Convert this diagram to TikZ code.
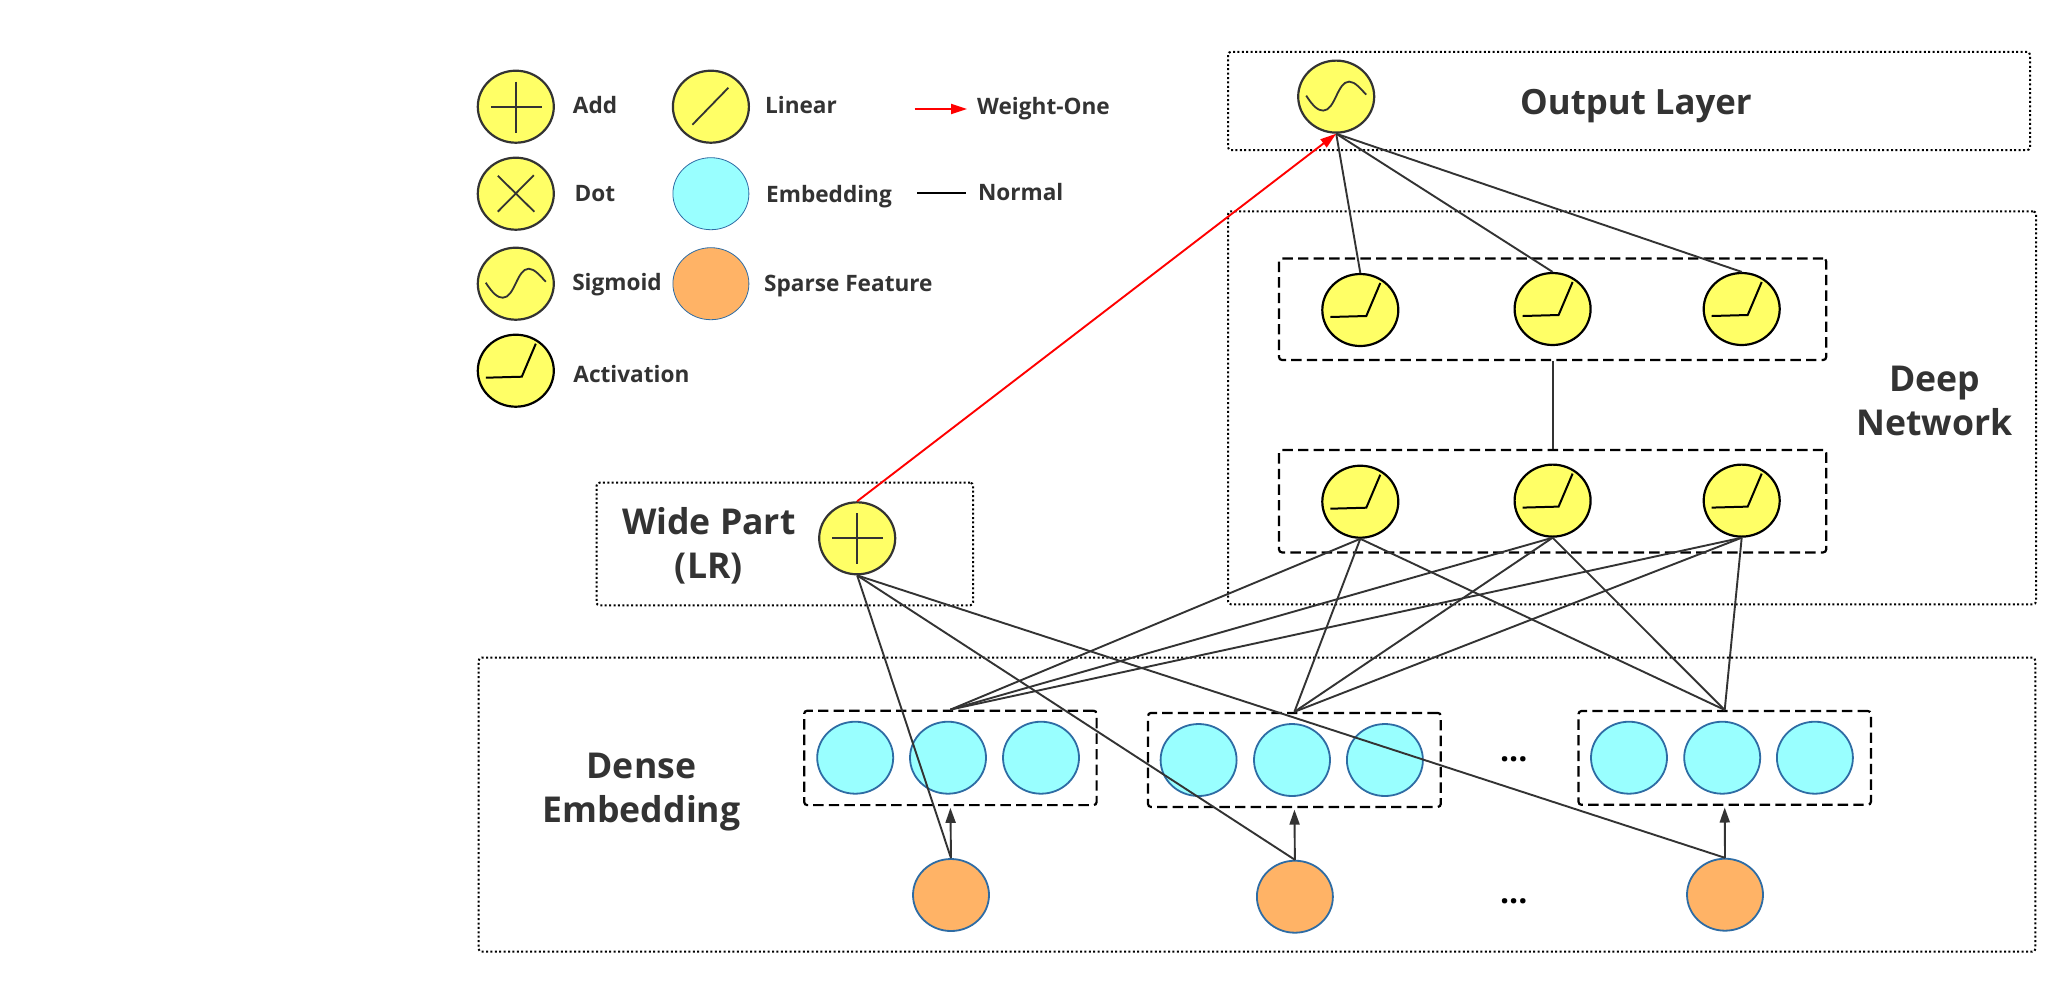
\documentclass[tikz,border=0pt]{standalone}
\usepackage{fontspec}
\setmainfont{Open Sans}[BoldFont={Open Sans Bold}]
\usetikzlibrary{shapes.geometric,arrows.meta}
\definecolor{ink}{HTML}{333333}
\definecolor{yel}{HTML}{FFFF66}
\definecolor{cyanf}{HTML}{99FFFF}
\definecolor{orgf}{HTML}{FFB366}
\definecolor{blueo}{HTML}{2E6CA4}
\tikzset{
  px/.style={x=0.5pt,y=-0.5pt},
  elbase/.style={ellipse,inner sep=0pt,minimum width=38pt,minimum height=36pt},
  yelnode/.style={elbase,fill=yel,draw=ink,line width=1.1pt},
  actnode/.style={elbase,fill=yel,draw=black,line width=1.1pt},
  embnode/.style={elbase,fill=cyanf,draw=blueo,line width=0.9pt},
  sparnode/.style={elbase,fill=orgf,draw=blueo,line width=0.9pt},
  legcol/.style={elbase,line width=0.4pt,draw=blueo},
  dotbox/.style={draw=black,line width=1pt,dash pattern=on 1pt off 1.2pt,rounded corners=1.5pt,inner sep=0pt},
  dashbox/.style={draw=black,line width=1.1pt,dash pattern=on 5.2pt off 2.6pt,rounded corners=1.5pt,inner sep=0pt},
  conn/.style={draw=ink,line width=0.95pt},
  upar/.style={conn,-{Triangle[length=7.5pt,width=5pt]},shorten >=0.8pt},
  redl/.style={draw=red,line width=0.95pt,-{Triangle[length=8pt,width=5pt]}},
  glyph/.style={draw=ink,line width=0.9pt},
  lbl/.style={font=\bfseries\fontsize{11.3}{13}\selectfont,text=ink,inner sep=0pt},
  big/.style={font=\bfseries\fontsize{17.8}{21.8}\selectfont,text=ink,inner sep=0pt,align=center},
  dots/.style={font=\bfseries\fontsize{16}{16}\selectfont,text=black,inner sep=0pt},
}
\newcommand{\glplus}[1]{\draw[glyph,shift={(#1.center)}] (0,-25)--(0,26) (-25,0)--(26,0);}
\newcommand{\gllin}[1]{\draw[glyph,shift={(#1.center)}] (-18.5,18)--(17.5,-19);}
\newcommand{\glx}[1]{\draw[glyph,shift={(#1.center)}] (-18,-18)--(18.5,18) (18,-18.5)--(-18,18);}
\newcommand{\glsig}[1]{\draw[glyph,shift={(#1.center)}] (-30,-1) .. controls (-23,10) and (-18,14) .. (-13,14) .. controls (-1,14) and (1,-15) .. (13,-15) .. controls (19,-15) and (25,-7) .. (30,-2);}
\newcommand{\glact}[1]{\draw[draw=black,line width=1pt,shift={(#1.center)}] (-30,7)--(6,6)--(20,-27);}
\begin{document}
\begin{tikzpicture}[px]
\useasboundingbox (0,0) rectangle (2068,982);
\fill[white] (0,0) rectangle (2068,982);

% containers
\node[dotbox,minimum width=401pt,minimum height=49.2pt] (outbox) at (1629,101) {};
\node[dotbox,minimum width=404pt,minimum height=196.5pt] (deepbox) at (1632,407.8) {};
\node[dotbox,minimum width=188.3pt,minimum height=61.3pt] (widebox) at (784.8,544) {};
\node[dotbox,minimum width=778.4pt,minimum height=147pt] (densebox) at (1257,804.7) {};
\node[dashbox,minimum width=273.6pt,minimum height=50.8pt] (hid2) at (1552.6,309.2) {};
\node[dashbox,minimum width=273.6pt,minimum height=51.2pt] (hid1) at (1552.6,501.2) {};
\node[dashbox,minimum width=146.2pt,minimum height=47.2pt] (eb1) at (950.4,757.9) {};
\node[dashbox,minimum width=146.4pt,minimum height=47pt] (eb2) at (1294.4,759.9) {};
\node[dashbox,minimum width=146.2pt,minimum height=46.9pt] (eb3) at (1724.7,757.9) {};

% legend
\node[yelnode] (ladd) at (515.8,106.7) {};
\node[yelnode] (ldot) at (515.8,193.7) {};
\node[yelnode] (lsig) at (515.8,283.7) {};
\node[actnode] (lact) at (515.8,370.7) {};
\node[yelnode] (llin) at (710.9,106.7) {};
\node[legcol,fill=cyanf] (lemb) at (710.9,193.7) {};
\node[legcol,fill=orgf] (lspa) at (710.9,283.7) {};
\glplus{ladd} \glx{ldot} \glsig{lsig} \glact{lact} \gllin{llin}
\node[lbl] (tadd) at (595,105) {Add};
\node[lbl] (tdot) at (595,194) {Dot};
\node[lbl] (tsig) at (617,285) {Sigmoid};
\node[lbl] (tact) at (631.4,374) {Activation};
\node[lbl] (tlin) at (801,105) {Linear};
\node[lbl] (temb) at (829,196.5) {Embedding};
\node[lbl] (tspa) at (848.4,286.5) {Sparse Feature};
\node[lbl] (twei) at (1043.5,109) {Weight-One};
\node[lbl] (tnor) at (1020.7,192) {Normal};
\coordinate (ra) at (914.5,109);
\coordinate (rb) at (967,109);
\coordinate (ka) at (917,192.7);
\coordinate (kb) at (966,192.7);
\draw[redl] (ra) -- (rb);
\draw[draw=black,line width=0.95pt] (ka) -- (kb);

% output
\node[yelnode] (out) at (1336.2,96.6) {};
\glsig{out}
\node[big,font=\bfseries\fontsize{17.4}{21.8}\selectfont] (toutl) at (1636,106) {Output Layer};

% deep
\node[actnode] (a1) at (1360.3,310) {};
\node[actnode] (a2) at (1552.6,309) {};
\node[actnode] (a3) at (1741.7,309) {};
\node[actnode] (b1) at (1360.3,501.7) {};
\node[actnode] (b2) at (1552.6,500.6) {};
\node[actnode] (b3) at (1741.7,500.6) {};
\glact{a1} \glact{a2} \glact{a3} \glact{b1} \glact{b2} \glact{b3}
\node[big] (tdeep) at (1934.5,401) {Deep\\Network};

% wide
\node[yelnode] (wide) at (857.2,538.3) {};
\glplus{wide}
\node[big] (twide) at (708.8,546) {Wide Part\\(LR)};

% embeddings
\node[embnode] (e11) at (855.2,757.7) {};
\node[embnode] (e12) at (948,757.7) {};
\node[embnode] (e13) at (1041,757.7) {};
\node[embnode] (e21) at (1198.6,760) {};
\node[embnode] (e22) at (1292,760) {};
\node[embnode] (e23) at (1384.9,760) {};
\node[embnode] (e31) at (1629,757.7) {};
\node[embnode] (e32) at (1722.2,757.7) {};
\node[embnode] (e33) at (1814.9,757.7) {};
\node[big] (tdense) at (641.4,792) {Dense\\Embedding};
\node[sparnode] (s1) at (951,895) {};
\node[sparnode] (s2) at (1294.9,896.7) {};
\node[sparnode] (s3) at (1725,894.7) {};
\node[dots] (d1) at (1513.8,759) {...};
\node[dots] (d2) at (1513.8,901) {...};

% connectors
\draw[conn] (out.south) -- (a1.north);
\draw[conn] (out.south) -- (a2.north);
\draw[conn] (out.south) -- (a3.north);
\draw[conn] (hid2.south) -- (hid1.north);
\foreach \u in {b1,b2,b3} \foreach \v in {eb1,eb2,eb3} \draw[conn] (\u.south) -- (\v.north);
\foreach \v in {s1,s2,s3} \draw[conn] (wide.south) -- (\v.north);
\draw[upar] (s1.north) -- (eb1.south);
\draw[upar] (s2.north) -- (eb2.south);
\draw[upar] (s3.north) -- (eb3.south);
\draw[redl] (wide.north) -- (out.south);
\end{tikzpicture}
\end{document}
